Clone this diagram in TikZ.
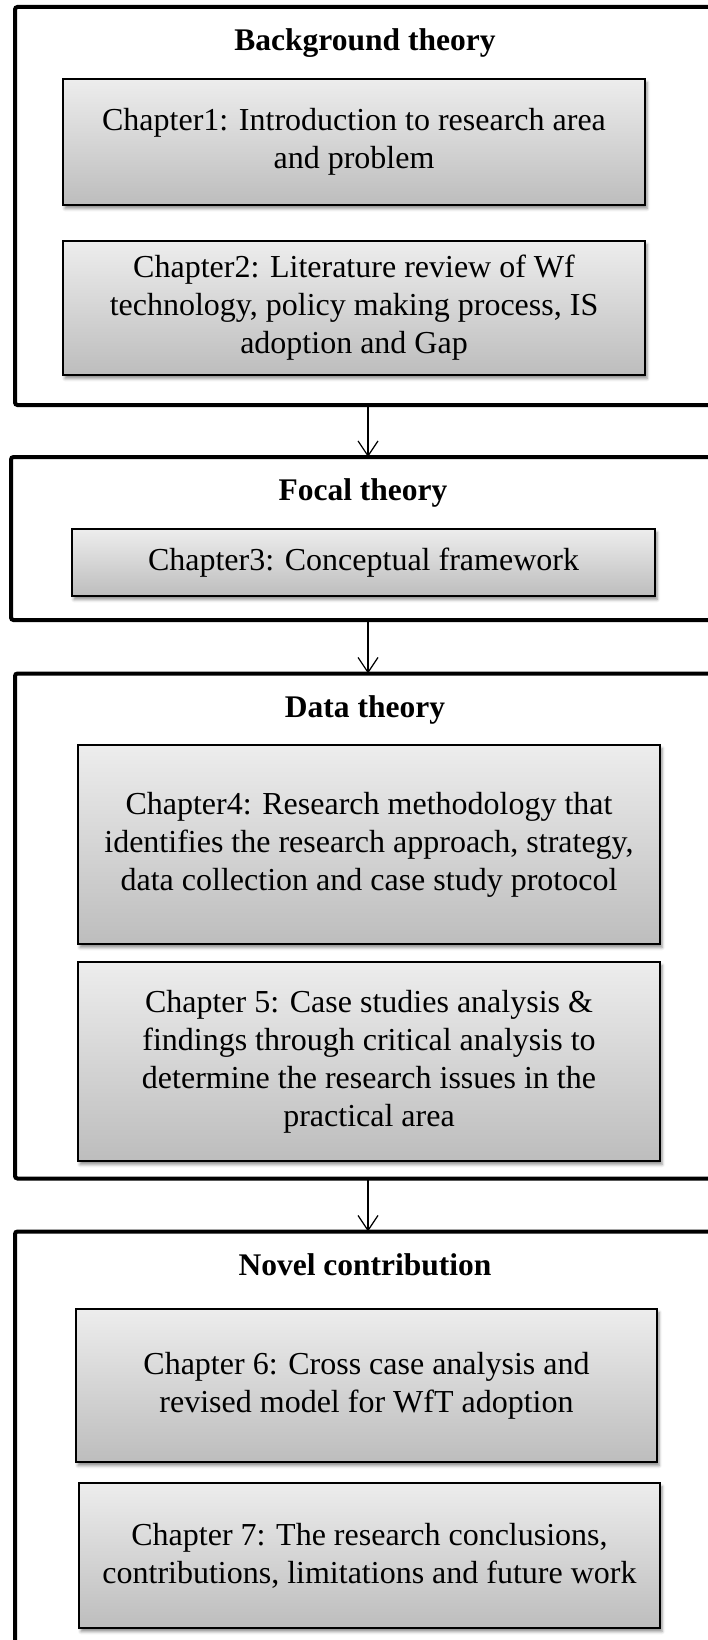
\documentclass[tikz,border=0pt]{standalone}
\usepackage{fontspec}
\setmainfont{Liberation Serif}
\usetikzlibrary{arrows.meta,shadows.blur}

\definecolor{boxtop}{HTML}{EDEDED}
\definecolor{boxbot}{HTML}{BDBDBD}
\newcommand\boxtextfont{\fontsize{32}{38}\selectfont}
\newcommand\headtextfont{\fontsize{31.5}{38}\selectfont\bfseries}

\tikzset{
  frame/.style={draw=black, line width=4pt, rounded corners=2.5pt,
    inner sep=0pt, outer sep=0pt},
  chapbox/.style={draw=black, line width=1.6pt,
    top color=boxtop, bottom color=boxbot,
    inner sep=0pt, outer sep=0pt, align=center, font=\boxtextfont,
    blur shadow={shadow xshift=2pt, shadow yshift=-3.5pt,
      shadow blur radius=3pt, shadow opacity=45}},
  heading/.style={anchor=base, font=\headtextfont, inner sep=0pt},
  link/.style={line width=1.2pt,
    -{Straight Barb[length=15pt,width=20pt]}},
}

\begin{document}
\begin{tikzpicture}[x=1pt, y=-1pt]
\useasboundingbox (0,0) rectangle (708,1640);

% outer frames, one per stage (their right edges run past the page)
\node[frame, minimum width=700pt, minimum height=398pt] (f1) at (365,206) {};
\node[frame, minimum width=704pt, minimum height=163pt] (f2) at (363,538.5) {};
\node[frame, minimum width=700pt, minimum height=505pt] (f3) at (365,926) {};
\node[frame, minimum width=700pt, minimum height=430pt] (f4) at (365,1446.5) {};

% stage headings
\node[heading] (h1) at (365,51) {Background theory};
\node[heading] (h2) at (363,500) {Focal theory};
\node[heading] (h3) at (365,717) {Data theory};
\node[heading] (h4) at (365,1275) {Novel contribution};

% chapter boxes
\node[chapbox, minimum width=582pt, minimum height=126pt] (c1) at (354,142)
  {Chapter1: Introduction to research area\\and problem};
\node[chapbox, minimum width=582pt, minimum height=134pt] (c2) at (354,308)
  {Chapter2: Literature review of Wf\\technology, policy making process, IS\\adoption and Gap};
\node[chapbox, minimum width=583pt, minimum height=67pt] (c3) at (363.5,562.5)
  {Chapter3: Conceptual framework};
\node[chapbox, minimum width=582pt, minimum height=199pt] (c4) at (369,844.5)
  {Chapter4: Research methodology that\\identifies the research approach, strategy,\\data collection and case study protocol};
\node[chapbox, minimum width=582pt, minimum height=199pt] (c5) at (369,1061.5)
  {Chapter 5: Case studies analysis \&\\findings through critical analysis to\\determine the research issues in the\\practical area};
\node[chapbox, minimum width=581pt, minimum height=153pt] (c6) at (366.5,1385.5)
  {Chapter 6: Cross case analysis and\\revised model for WfT adoption};
\node[chapbox, minimum width=581pt, minimum height=145pt] (c7) at (369.5,1555.5)
  {Chapter 7: The research conclusions,\\contributions, limitations and future work};

% connectors between stages
\coordinate (ax) at (368,0);
\draw[link] (f1.south -| ax) -- (f2.north -| ax);
\draw[link] (f2.south -| ax) -- (f3.north -| ax);
\draw[link] (f3.south -| ax) -- (f4.north -| ax);
\end{tikzpicture}
\end{document}
